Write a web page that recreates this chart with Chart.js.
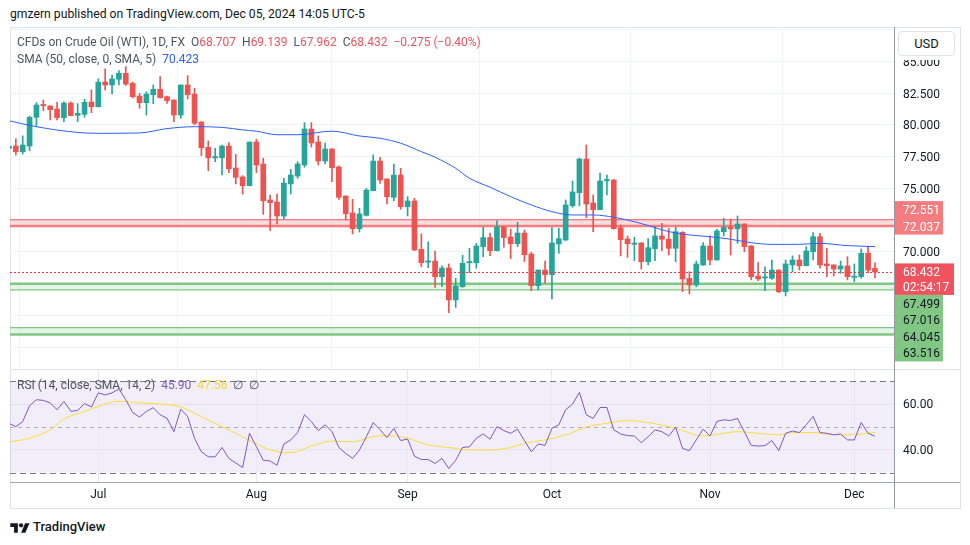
<!DOCTYPE html>
<html>
<head>
<meta charset="utf-8">
<title>CFDs on Crude Oil (WTI)</title>
<script src="https://cdn.jsdelivr.net/npm/chart.js@4.4.1/dist/chart.umd.min.js"></script>
<style>
  body { margin: 0; background: #fff; font-family: Roboto, "Noto Sans", sans-serif; color: #131722; }
  #page { position: relative; width: 970px; height: 545px; overflow: hidden; }
  .abs { position: absolute; }
  .frame { left: 10px; top: 27px; width: 949px; height: 480px; border: 1px solid #e0e3eb; }
  .hline { height: 1px; left: 10px; width: 950px; }
  .legend { font-size: 12px; line-height: 17px; white-space: nowrap; color: #50535e; }
  .red { color: #f0525e; }
  #usd { left: 895px; top: 28px; width: 64px; height: 32px; background: #fff; }
  #usd div { position: absolute; left: 3px; top: 3px; width: 55px; height: 23px; border: 1px solid #e0e3eb; border-radius: 4px;
             font-size: 13px; line-height: 23px; text-align: center; color: #131722; }
</style>
</head>
<body>
<div id="page">
  <div class="abs" style="left:10px;top:6px;font-size:12.2px;line-height:16px;">gmzern published on TradingView.com, Dec 05, 2024 14:05 UTC-5</div>
  <div class="abs frame"></div>

  <div class="abs" style="left:10px;top:19px;"><canvas id="mainChart" width="950" height="359"></canvas></div>
  <div class="abs" style="left:10px;top:362px;"><canvas id="rsiChart" width="950" height="146"></canvas></div>

  <div class="abs hline" style="top:369px;background:#e0e3eb;"></div>
  <div class="abs hline" style="top:482px;background:#a3a6af;"></div>
  <div class="abs" style="left:894px;top:27px;width:1px;height:481px;background:#9598a1;"></div>

  <div class="abs legend" style="left:17px;top:34px;">CFDs on Crude Oil (WTI), 1D, FX&nbsp; O<span class="red">68.707</span>&nbsp; H<span class="red">69.139</span>&nbsp; L<span class="red">67.962</span>&nbsp; C<span class="red">68.432</span>&nbsp; <span class="red">−0.275 (−0.40%)</span></div>
  <div class="abs legend" style="left:17px;top:51px;">SMA (50, close, 0, SMA, 5)&nbsp; <span style="color:#2962ff">70.423</span></div>
  <div class="abs legend" style="left:17px;top:377px;">RSI (14, close, SMA, 14, 2)&nbsp; <span style="color:#7e57c2">45.90</span>&nbsp; <span style="color:#f5d63c">47.56</span>&nbsp; ∅&nbsp; ∅</div>

  <div class="abs" id="usd"><div>USD</div></div>

  <div class="abs" style="left:10px;top:520px;">
    <svg width="20" height="14" viewBox="0 0 36 26"><path d="M14 22H7V11H0V4h14v18zM28 22h-8l7.5-18h8L28 22z" fill="#131722"/><circle cx="20" cy="8" r="4" fill="#131722"/></svg>
  </div>
  <div class="abs" style="left:33px;top:519px;font-size:13px;line-height:16px;font-weight:500;">TradingView</div>
</div>

<script>
// daily bars, Jun 12 .. Dec 05 2024 (index = bar number)
const opens = [78.15, 78.33, 77.88, 78.33, 80.59, 81.6, 81.48, 81.24, 80.56, 81.71, 80.75, 80.82, 81.79, 81.42, 83.36, 83.13, 83.58, 84.05, 83.26, 82.26,
  81.74, 82.37, 82.79, 82.21, 81.95, 80.77, 83.13, 82.42, 80.22, 78.23, 77.4, 77.41, 78.33, 76.6, 75.9, 75.21, 78.65, 76.92, 74.09, 73.93,
  72.83, 75.35, 75.97, 76.84, 79.67, 78.65, 77.15, 78.1, 76.68, 74.4, 73.07, 71.83, 72.88, 74.82, 77.15, 75.74, 74.3, 76.05, 73.56, 74.01,
  70.21, 69.2, 69.29, 68.06, 68.74, 66.23, 67.27, 69.15, 69.16, 70.42, 71.13, 70.1, 71.97, 71.18, 70.65, 71.49, 69.84, 67.35, 68.58, 68.22,
  70.63, 70.94, 73.64, 74.66, 77.31, 73.85, 73.33, 75.6, 75.66, 71.91, 71.02, 70.6, 70.71, 69.24, 70.26, 71.26, 71.0, 70.29, 71.55, 67.93,
  67.41, 68.98, 70.47, 69.37, 71.6, 71.94, 71.81, 72.2, 70.47, 68.11, 67.95, 67.93, 68.58, 66.88, 68.98, 69.37, 68.92, 70.02, 71.2, 69.06,
  68.98, 68.66, 68.9, 68.0, 68.06, 69.9, 68.707];
const highs = [78.35, 78.9, 79.13, 80.69, 81.74, 81.95, 81.5, 81.77, 81.8, 81.8, 81.66, 82.0, 82.74, 83.62, 84.39, 83.9, 84.26, 84.57, 83.36, 82.48,
  82.6, 83.13, 83.79, 82.25, 81.97, 83.13, 83.87, 82.87, 80.25, 78.73, 78.15, 78.4, 78.6, 77.68, 76.0, 78.65, 78.86, 77.37, 74.48, 74.56,
  75.79, 76.5, 77.1, 80.17, 80.17, 79.12, 78.57, 78.12, 76.78, 74.42, 74.14, 73.43, 75.0, 77.63, 77.44, 75.76, 76.92, 76.58, 74.35, 74.22,
  71.42, 70.79, 70.08, 68.92, 69.06, 67.93, 69.74, 70.29, 70.68, 71.94, 71.49, 72.46, 71.99, 71.81, 72.33, 71.73, 69.98, 68.6, 69.29, 71.91,
  71.86, 74.09, 75.58, 77.39, 78.41, 74.48, 76.21, 76.05, 75.7, 72.12, 71.26, 71.16, 70.73, 71.05, 71.99, 72.26, 71.86, 71.94, 71.6, 68.45,
  69.29, 70.73, 71.26, 71.78, 72.65, 72.59, 72.83, 72.22, 70.5, 69.16, 68.84, 69.37, 68.6, 69.37, 69.69, 69.76, 70.42, 71.52, 71.47, 70.29,
  69.0, 69.29, 69.63, 69.06, 70.24, 70.47, 69.139];
const lows = [78.1, 77.63, 77.7, 77.96, 79.85, 81.1, 80.38, 80.38, 80.25, 80.7, 80.25, 80.59, 80.95, 81.4, 82.74, 82.42, 83.13, 83.1, 82.1, 81.3,
  80.77, 81.66, 82.1, 81.69, 80.25, 80.51, 82.03, 80.0, 77.57, 76.39, 77.1, 76.05, 76.23, 75.35, 74.56, 75.2, 76.23, 72.96, 71.67, 72.2,
  72.57, 74.56, 75.79, 76.66, 78.25, 76.84, 76.92, 75.53, 74.14, 72.52, 71.42, 71.57, 72.83, 74.8, 75.4, 73.77, 74.03, 73.36, 72.83, 70.1,
  68.84, 68.77, 67.22, 67.27, 65.23, 65.65, 67.22, 68.37, 68.72, 69.63, 69.71, 70.08, 70.37, 69.48, 70.42, 69.24, 66.96, 67.01, 67.54, 66.3,
  69.9, 70.9, 73.51, 73.62, 72.7, 71.6, 73.3, 74.48, 71.8, 69.69, 69.58, 69.32, 68.66, 68.98, 69.32, 70.1, 69.76, 69.24, 66.88, 66.7,
  67.27, 68.95, 68.98, 69.35, 71.26, 69.76, 70.68, 70.02, 67.8, 67.74, 66.96, 67.85, 66.8, 66.54, 68.45, 68.58, 68.9, 69.37, 68.72, 68.06,
  68.11, 68.32, 67.8, 67.67, 67.93, 68.37, 67.962];
const closes = [78.3, 77.88, 78.41, 80.59, 81.56, 81.5, 81.19, 80.56, 81.71, 80.72, 80.9, 81.77, 81.42, 83.36, 83.13, 83.6, 84.05, 83.2, 82.21, 81.74,
  82.42, 82.79, 82.14, 81.9, 80.77, 83.13, 82.37, 80.12, 78.2, 77.41, 77.5, 78.33, 76.55, 75.87, 75.21, 78.65, 76.84, 74.03, 73.88, 72.83,
  75.42, 76.05, 76.92, 79.67, 78.57, 77.15, 78.1, 76.63, 74.3, 73.01, 71.83, 72.99, 74.87, 77.15, 75.66, 74.35, 76.05, 73.56, 74.01, 70.16,
  69.16, 69.3, 68.06, 68.74, 66.23, 67.33, 69.11, 69.25, 70.47, 71.13, 70.1, 71.97, 71.13, 70.65, 71.49, 69.79, 67.35, 68.58, 68.22, 70.71,
  71.05, 73.7, 74.72, 77.31, 73.77, 73.33, 75.58, 75.7, 71.83, 70.97, 70.65, 70.7, 69.24, 70.34, 71.26, 71.0, 70.29, 71.6, 67.88, 67.41,
  69.06, 70.47, 69.37, 71.65, 71.94, 71.81, 72.2, 70.42, 68.06, 67.88, 68.05, 68.58, 66.88, 69.06, 69.37, 68.92, 70.08, 71.2, 68.98, 68.92,
  68.66, 68.9, 68.06, 68.1, 69.9, 68.58, 68.432];

// SMA 50, read at these bar numbers
const smaIdx = [0, 4, 10, 13, 19, 23, 27, 31, 34, 36, 39, 42, 47, 51, 54, 57, 60, 62, 65, 67, 70, 73, 76, 79, 82, 85, 88, 91, 93, 96, 99, 102, 105, 108, 111, 115, 118, 122, 126];
const smaVal = [80.32, 79.85, 79.4, 79.33, 79.36, 79.7, 79.85, 79.8, 79.6, 79.5, 79.22, 79.22, 79.5, 79.12, 78.94, 78.55, 77.89, 77.45, 76.58, 75.8,
  75.09, 74.35, 73.7, 73.17, 72.91, 72.91, 72.73, 72.38, 72.08, 71.6, 71.34, 71.2, 71.0, 70.73, 70.6, 70.6, 70.68, 70.5, 70.423];

// RSI 14, one value per bar
const rsiVal = [51.6, 50.1, 52.3, 59.3, 61.9, 61.6, 60.5, 57.5, 61.2, 56.8, 57.2, 60.2, 58.7, 64.9, 64.0, 64.9, 66.6, 61.9, 56.3, 54.3,
  56.8, 58.4, 55.3, 53.8, 47.9, 57.8, 54.5, 45.0, 39.1, 36.9, 36.9, 41.0, 36.2, 34.2, 32.2, 47.2, 41.3, 35.4, 35.1, 33.2,
  42.5, 44.3, 47.5, 55.3, 52.3, 48.4, 50.9, 48.0, 41.0, 38.4, 36.2, 39.9, 45.7, 51.9, 48.7, 45.3, 49.3, 44.0, 44.7, 37.2,
  35.7, 35.7, 34.0, 36.2, 31.8, 35.4, 41.0, 41.3, 45.0, 46.9, 44.6, 50.1, 48.4, 47.2, 49.0, 44.0, 39.1, 42.5, 41.9, 49.4,
  50.9, 57.5, 60.0, 65.1, 55.3, 53.7, 58.5, 58.5, 48.7, 46.9, 46.2, 46.0, 43.1, 45.7, 48.7, 47.9, 46.0, 49.9, 40.6, 39.6,
  44.3, 49.0, 46.0, 52.4, 53.1, 52.8, 53.7, 47.9, 41.9, 41.6, 41.8, 44.0, 39.6, 47.2, 48.2, 47.5, 50.9, 54.6, 47.5, 47.2,
  46.5, 46.9, 44.3, 44.3, 51.9, 47.2, 45.9];
// SMA 14 of RSI, read at these bar numbers
const rsiMaIdx = [0, 3, 6, 8, 11, 13, 16, 19, 22, 25, 28, 31, 34, 36, 39, 41, 44, 47, 50, 53, 55, 58, 61, 64, 67, 70, 73, 75, 78, 81,
  84, 87, 90, 93, 97, 101, 104, 106, 109, 112, 114, 117, 119, 122, 126];
const rsiMaVal = [43.5, 45.0, 48.7, 53.4, 56.8, 59.0, 61.2, 60.5, 60.0, 58.7, 54.5, 50.1, 45.7, 42.5, 39.1, 38.7, 41.6, 43.8, 43.5, 45.7,
  46.2, 45.0, 42.1, 41.0, 39.9, 39.9, 41.0, 42.8, 44.3, 46.5, 49.9, 51.6, 52.7, 51.9, 49.4, 46.0, 47.2, 47.9, 47.2, 46.5,
  47.5, 47.5, 46.8, 46.5, 47.56];

// time axis
const monthLabels = ['Jul', 'Aug', 'Sep', 'Oct', 'Nov', 'Dec'];
const monthBarIdx = [13, 36, 58, 79, 102, 123];

// price axis
const priceTicks = [62.5, 65, 67.5, 70, 72.5, 75, 77.5, 80, 82.5, 85, 87.5];
const shownPriceTicks = [70, 75, 77.5, 80, 82.5, 85];
const rsiTicks = [40, 60];
const rsiLevels = [70, 50, 30];

// drawn zones
const resistance = [72.551, 72.037];
const support1 = [67.499, 67.016];
const support2 = [64.045, 63.516];
const lastClose = 68.432;
const countdown = '02:54:17';

const UP = '#26a69a', DOWN = '#ef5350';
const FONT = 'Roboto';
Chart.defaults.font.family = FONT;

const xMin = 0.153, xMax = 128.77;
const candleColor = closes.map((c, i) => c >= opens[i] ? UP : DOWN);

// zones under the candles, price line over them
const zonesPlugin = {
  id: 'zones',
  beforeDatasetsDraw(chart) {
    const { ctx, chartArea: a, scales: { y } } = chart;
    const zone = (vals, thickIdx, line, fill) => {
      const p = vals.map(v => y.getPixelForValue(v));
      ctx.fillStyle = fill;
      ctx.fillRect(a.left, Math.min(p[0], p[1]), a.right - a.left, Math.abs(p[1] - p[0]));
      p.forEach((py, k) => {
        ctx.strokeStyle = line;
        ctx.lineWidth = k === thickIdx ? 2.5 : 1.2;
        ctx.beginPath(); ctx.moveTo(a.left, py); ctx.lineTo(a.right, py); ctx.stroke();
      });
    };
    ctx.save();
    zone(resistance, 1, '#f77c80', 'rgba(247,124,128,0.25)');
    zone(support1, 0, '#81c784', 'rgba(129,199,132,0.2)');
    zone(support2, 1, '#81c784', 'rgba(129,199,132,0.2)');
    ctx.restore();
  },
  afterDatasetsDraw(chart) {
    const { ctx, chartArea: a, scales: { y } } = chart;
    const py = Math.round(y.getPixelForValue(lastClose)) + 0.5;
    ctx.save();
    ctx.strokeStyle = '#f23645';
    ctx.lineWidth = 1;
    ctx.setLineDash([2, 2]);
    ctx.beginPath(); ctx.moveTo(a.left, py); ctx.lineTo(a.right, py); ctx.stroke();
    ctx.restore();
  },
  afterDraw(chart) {
    const { ctx, chartArea: a, scales: { y } } = chart;
    const x0 = a.right + 1, dy = 1.5;
    ctx.save();
    ctx.font = '12px ' + FONT;
    ctx.textBaseline = 'middle';
    // resistance labels
    const rLow = y.getPixelForValue(resistance[1]);
    const rHigh = Math.min(y.getPixelForValue(resistance[0]), rLow - 16.5);
    ctx.fillStyle = '#f77c80';
    ctx.fillRect(x0, rHigh - 8.5, 48, rLow - rHigh + 17);
    ctx.fillStyle = '#fff';
    ctx.fillText(resistance[0].toFixed(3), x0 + 8, rHigh + dy);
    ctx.fillText(resistance[1].toFixed(3), x0 + 8, rLow + dy);
    // last price + countdown
    const pp = y.getPixelForValue(lastClose);
    ctx.fillStyle = '#f0525e';
    ctx.fillRect(x0, pp - 8.5, 59, 31.5);
    ctx.fillStyle = '#fff';
    ctx.fillText(lastClose.toFixed(3), x0 + 8, pp + dy);
    ctx.fillText(countdown, x0 + 8, pp + 15 + dy);
    // support labels stacked below
    const sup = support1.concat(support2);
    let prev = pp + 23 - 8;
    const pos = sup.map(v => (prev = Math.max(y.getPixelForValue(v), prev + 16.5)));
    ctx.fillStyle = '#81c784';
    ctx.fillRect(x0, pp + 23, 48, pos[pos.length - 1] + 8.5 - (pp + 23));
    ctx.fillStyle = '#131722';
    sup.forEach((v, k) => ctx.fillText(v.toFixed(3), x0 + 8, pos[k] + dy));
    ctx.restore();
  }
};

new Chart(document.getElementById('mainChart'), {
  type: 'bar',
  data: {
    datasets: [
      { type: 'line', data: smaIdx.map((x, k) => ({ x, y: smaVal[k] })), borderColor: '#2962ff', borderWidth: 1,
        pointRadius: 0, cubicInterpolationMode: 'monotone', order: 0 },
      { data: opens.map((o, i) => ({ x: i, y: [o, closes[i]] })), backgroundColor: candleColor,
        barThickness: 5, minBarLength: 1, grouped: false, order: 1 },
      { data: lows.map((l, i) => ({ x: i, y: [l, highs[i]] })), backgroundColor: candleColor,
        barThickness: 1, grouped: false, order: 2 }
    ]
  },
  options: {
    responsive: false, animation: false, events: [], devicePixelRatio: 1,
    layout: { padding: { top: 8, bottom: 8, left: 0, right: 0 } },
    plugins: { legend: { display: false }, tooltip: { enabled: false } },
    scales: {
      x: {
        type: 'linear', min: xMin, max: xMax, offset: false,
        afterBuildTicks: s => { s.ticks = monthBarIdx.map(v => ({ value: v })); },
        ticks: { display: false },
        grid: { color: '#f0f3fa', drawTicks: false },
        border: { display: false }
      },
      y: {
        position: 'right', min: 60.72, max: 87.69,
        afterBuildTicks: s => { s.ticks = priceTicks.map(v => ({ value: v })); },
        afterFit: s => { s.width = 66; },
        ticks: { callback: v => shownPriceTicks.includes(v) ? v.toFixed(3) : '', padding: 0, labelOffset: 1.5,
                 color: '#131722', font: { size: 12, lineHeight: 1.2 } },
        grid: { color: '#f0f3fa', drawTicks: true, tickLength: 9, tickColor: 'rgba(0,0,0,0)' },
        border: { display: false }
      }
    }
  },
  plugins: [zonesPlugin]
});

// RSI band and levels
const rsiPlugin = {
  id: 'rsiBand',
  beforeDraw(chart) {
    const { ctx, chartArea: a, scales: { y } } = chart;
    const top = y.getPixelForValue(rsiLevels[0]), bot = y.getPixelForValue(rsiLevels[2]);
    ctx.save();
    ctx.fillStyle = 'rgba(126,87,194,0.1)';
    ctx.fillRect(a.left, top, a.right - a.left, bot - top);
    ctx.restore();
  },
  beforeDatasetsDraw(chart) {
    const { ctx, chartArea: a, scales: { y } } = chart;
    ctx.save();
    ctx.lineWidth = 1;
    rsiLevels.forEach((lv, k) => {
      const py = Math.round(y.getPixelForValue(lv)) + 0.5;
      ctx.strokeStyle = k === 1 ? 'rgba(120,123,134,0.55)' : '#787b86';
      ctx.setLineDash(k === 1 ? [4, 4] : [6, 4]);
      ctx.beginPath(); ctx.moveTo(a.left, py); ctx.lineTo(a.right, py); ctx.stroke();
    });
    ctx.restore();
  }
};

new Chart(document.getElementById('rsiChart'), {
  type: 'line',
  data: {
    datasets: [
      { data: rsiVal.map((y, i) => ({ x: i, y })), borderColor: '#7e57c2', borderWidth: 1, pointRadius: 0, tension: 0 },
      { data: rsiMaIdx.map((x, k) => ({ x, y: rsiMaVal[k] })), borderColor: '#fbdc3c', borderWidth: 1, pointRadius: 0,
        cubicInterpolationMode: 'monotone' }
    ]
  },
  options: {
    responsive: false, animation: false, events: [], devicePixelRatio: 1,
    layout: { padding: { top: 8, bottom: 0, left: 0, right: 0 } },
    plugins: { legend: { display: false }, tooltip: { enabled: false } },
    scales: {
      x: {
        type: 'linear', min: xMin, max: xMax, offset: false,
        afterBuildTicks: s => { s.ticks = monthBarIdx.map(v => ({ value: v })); },
        ticks: { callback: v => monthLabels[monthBarIdx.indexOf(v)] || '', autoSkip: false, maxRotation: 0,
                 padding: 5.6, color: '#131722', font: { size: 12, lineHeight: 1.2 } },
        grid: { color: '#ebe8f3', drawTicks: false },
        border: { display: false }
      },
      y: {
        position: 'right', min: 25.7, max: 74.9,
        afterBuildTicks: s => { s.ticks = rsiTicks.map(v => ({ value: v })); },
        afterFit: s => { s.width = 66; },
        ticks: { callback: v => v.toFixed(2), padding: 0, labelOffset: 1, color: '#131722', font: { size: 12, lineHeight: 1.2 } },
        grid: { color: '#e6e1f2', drawTicks: true, tickLength: 9, tickColor: 'rgba(0,0,0,0)' },
        border: { display: false }
      }
    }
  },
  plugins: [rsiPlugin]
});
</script>
</body>
</html>
